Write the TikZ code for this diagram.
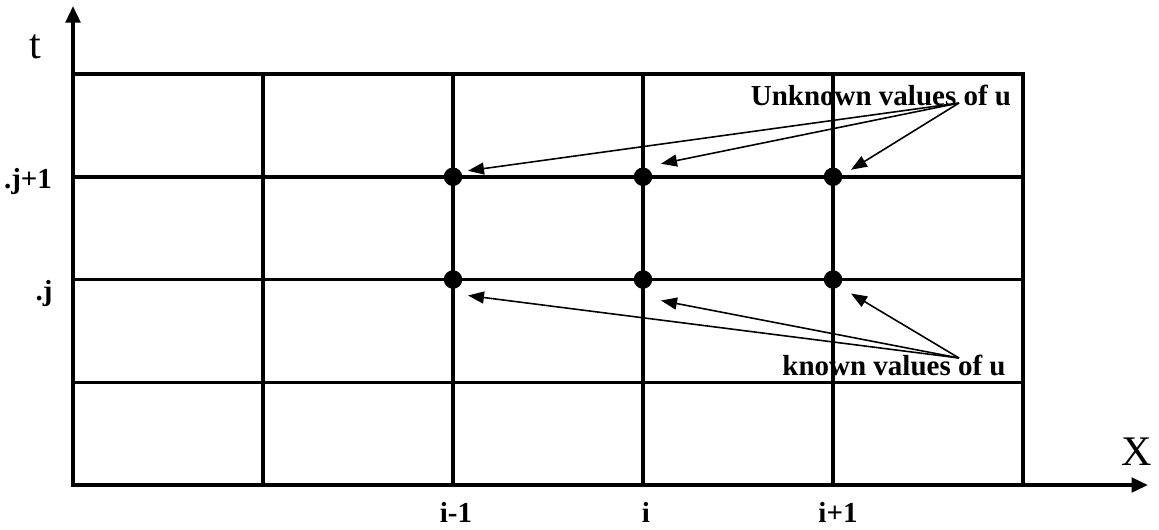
\documentclass[tikz,border=0pt]{standalone}
\usepackage{fontspec}
\setmainfont{Liberation Serif}
\usetikzlibrary{arrows.meta, calc}

\tikzset{
  gridline/.style={line width=2pt, line cap=rect},
  axis/.style={line width=2pt, -{Triangle[length=0.33cm, width=0.29cm]}},
  pointer/.style={line width=0.9pt, -{Triangle[length=0.32cm, width=0.24cm]}},
  gridpt/.style={circle, fill=black, inner sep=0pt, minimum width=0.37cm, minimum height=0.33cm},
  lbl/.style={font=\fontsize{16.5}{18}\selectfont\bfseries, inner sep=0pt},
  axlbl/.style={font=\fontsize{24}{26}\selectfont, inner sep=0pt}
}

\begin{document}
\begin{tikzpicture}[x=0.02cm, y=-0.02cm]
  \def\xl{73}
  \def\xr{1023}
  \def\yt{74}
  \def\yb{485}
  \def\dx{190}
  \def\dy{102.75}

  \useasboundingbox (0,0) rectangle (1159,529);

  % Grid -------------------------------------------------------------------
  \draw[gridline] (\xl,\yt) rectangle (\xr,\yb);
  \foreach \k in {1,...,4}
    \draw[gridline] (\xl+\k*\dx,\yt) -- (\xl+\k*\dx,\yb);
  \foreach \k in {1,...,3}
    \draw[gridline] (\xl,\yt+\k*\dy) -- (\xr,\yt+\k*\dy);

  % Axes -------------------------------------------------------------------
  \coordinate (origin) at (\xl,\yb);
  \coordinate (xend) at (1148,\yb);
  \coordinate (tend) at (\xl,6);
  \draw[axis] (origin) -- (xend);
  \draw[axis] (origin) -- (tend);
  \node[axlbl] (tlab) at (35,47) {t};
  \node[axlbl] (xlab) at (1137,452) {X};

  % Axis labels ------------------------------------------------------------
  \node[lbl, anchor=base] (jp) at (28,188) {.j+1};
  \node[lbl, anchor=base] (j) at (44,300) {.j};
  \node[lbl, anchor=base] (im) at (456,522) {i-1};
  \node[lbl, anchor=base] (i) at (646,522) {i};
  \node[lbl, anchor=base] (ip) at (838,522) {i+1};

  % Grid points ------------------------------------------------------------
  \foreach \c/\xx in {m/2, o/3, p/4} {
    \node[gridpt] (up\c) at (\xl+\xx*\dx,\yt+\dy) {};
    \node[gridpt] (lo\c) at (\xl+\xx*\dx,\yt+2*\dy) {};
  }

  % Annotations ------------------------------------------------------------
  \node[lbl, anchor=base] (unk) at (881,105) {Unknown values of u};
  \node[lbl, anchor=base] (kno) at (894,375) {known values of u};
  \coordinate (usrc) at (959,103);
  \coordinate (ksrc) at (959,358);

  \coordinate (uendm) at ($(upm)+(15,-6)$);
  \coordinate (uendo) at ($(upo)+(18,-13)$);
  \coordinate (uendp) at ($(upp)+(18,-7)$);
  \coordinate (kendm) at ($(lom)+(15,16)$);
  \coordinate (kendo) at ($(loo)+(18,21)$);
  \coordinate (kendp) at ($(lop)+(18,14)$);

  \foreach \c in {m, o, p} {
    \draw[pointer] (usrc) -- (uend\c);
    \draw[pointer] (ksrc) -- (kend\c);
  }

\end{tikzpicture}
\end{document}
